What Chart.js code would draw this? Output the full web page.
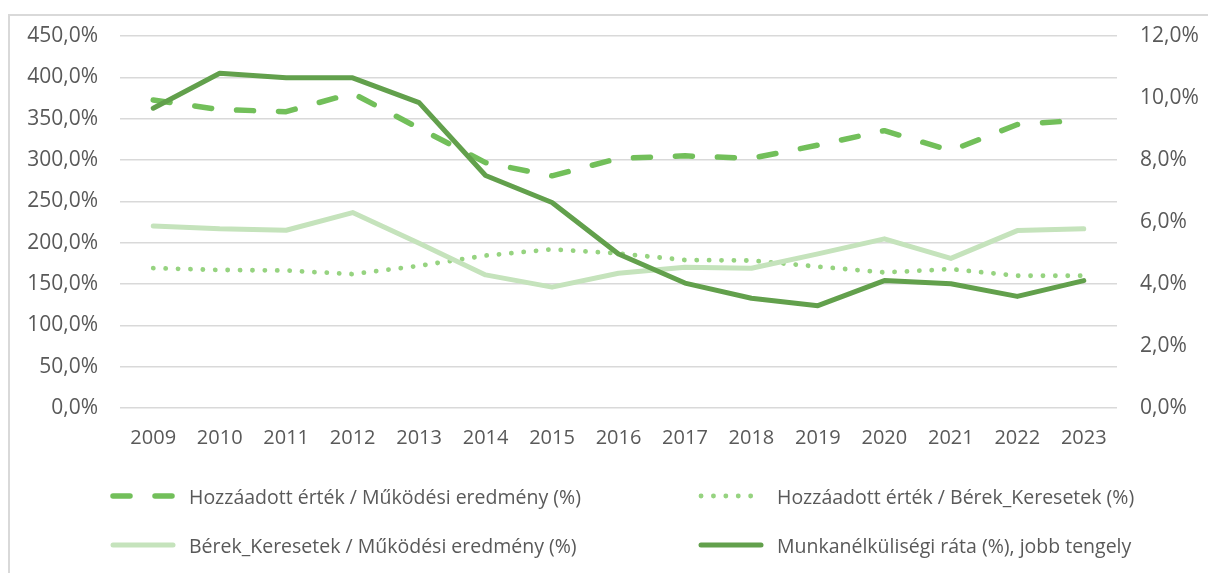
<!DOCTYPE html>
<html>
<head>
<meta charset="utf-8">
<script src="https://cdn.jsdelivr.net/npm/chart.js@4"></script>
<style>
  body { margin: 0; background: #fff; }
  #wrap { position: relative; width: 1208px; height: 573px; overflow: hidden; }
  #frame { position: absolute; left: 8px; top: 14px; width: 1300px; height: 700px;
           border-left: 2px solid #d9d9d9; border-top: 2px solid #d9d9d9; }
  #chart { position: absolute; left: 0; top: 0; }
  .leg { position: absolute; display: flex; align-items: center;
         font-family: "Open Sans", sans-serif; font-size: 19.5px; color: #595959; white-space: nowrap; }
  .leg canvas { margin-right: 13px; }
</style>
</head>
<body>
<div id="wrap">
  <div id="frame"></div>
  <canvas id="chart" width="1208" height="573"></canvas>
  <div id="legend"></div>
</div>
<script>
const years = ['2009','2010','2011','2012','2013','2014','2015','2016','2017','2018','2019','2020','2021','2022','2023'];

// Hozzáadott érték / Működési eredmény (%)
const haMukodesi = [372.6, 361, 358.5, 380.7, 338.4, 296.8, 280.8, 302, 305, 302, 318, 335.5, 311.3, 343, 348.4];
// Hozzáadott érték / Bérek_Keresetek (%)
const haBerek = [169.2, 167, 166.3, 162, 172, 184.4, 192, 187, 179, 178.4, 171, 164, 168, 160, 160];
// Bérek_Keresetek / Működési eredmény (%)
const berekMukodesi = [220.3, 216.7, 215, 236.4, 199.4, 161, 146.2, 163, 170.4, 169, 186.5, 204.6, 181, 214.6, 216.7];
// Munkanélküliségi ráta (%), jobb tengely
const munkanelk = [9.67, 10.80, 10.65, 10.65, 9.85, 7.50, 6.63, 4.97, 4.03, 3.54, 3.30, 4.11, 4.01, 3.60, 4.11];

const labelsText = [
  'Hozzáadott érték / Működési eredmény (%)',
  'Hozzáadott érték / Bérek_Keresetek (%)',
  'Bérek_Keresetek / Működési eredmény (%)',
  'Munkanélküliségi ráta (%), jobb tengely'
];

const fmt = (v) => v.toFixed(1).replace('.', ',') + '%';
const tickFont = { family: '"Open Sans", sans-serif', size: 20 };
const yTickFont = { family: '"Open Sans", sans-serif', size: 21 };

const datasets = [
  { label: labelsText[0], data: haMukodesi, yAxisID: 'y', borderColor: 'rgb(114,191,90)',
    borderWidth: 5.5, borderDash: [17, 25], order: 3 },
  { label: labelsText[1], data: haBerek, yAxisID: 'y', borderColor: 'rgb(150,211,128)',
    borderWidth: 4.8, borderDash: [0.1, 12.3], order: 2 },
  { label: labelsText[2], data: berekMukodesi, yAxisID: 'y', borderColor: 'rgb(197,227,188)',
    borderWidth: 5, order: 1 },
  { label: labelsText[3], data: munkanelk, yAxisID: 'y1', borderColor: 'rgb(98,160,76)',
    borderWidth: 5, order: 0 }
];
datasets.forEach((d) => {
  d.pointRadius = 0;
  d.tension = 0;
  d.fill = false;
  d.borderCapStyle = 'round';
  d.borderJoinStyle = 'round';
});

const chart = new Chart(document.getElementById('chart'), {
  type: 'line',
  data: { labels: years, datasets: datasets },
  options: {
    responsive: false,
    animation: false,
    layout: { padding: { top: 36, left: 0, right: 0, bottom: 115 } },
    plugins: { legend: { display: false }, tooltip: { enabled: false } },
    scales: {
      x: {
        offset: true,
        grid: { display: false, drawTicks: false },
        border: { display: false },
        ticks: { font: tickFont, color: '#595959', padding: 18, maxRotation: 0 },
        afterFit: (s) => { s.height = 50; }
      },
      y: {
        position: 'left',
        min: 0, max: 450,
        grid: { color: '#d9d9d9', lineWidth: 1.5, drawTicks: false },
        border: { display: false },
        ticks: { stepSize: 50, font: yTickFont, color: '#595959', padding: 22, callback: (v) => fmt(v) },
        afterFit: (s) => { s.width = 120; }
      },
      y1: {
        position: 'right',
        min: 0, max: 12,
        grid: { display: false, drawTicks: false },
        border: { display: false },
        ticks: { stepSize: 2, font: yTickFont, color: '#595959', padding: 23, callback: (v) => fmt(v) },
        afterFit: (s) => { s.width = 91; }
      }
    }
  }
});

// html legend, two columns
const legendPos = [[110, 496], [698, 496], [110, 545], [698, 545]];
const legendBox = document.getElementById('legend');
chart.data.datasets.forEach((ds, i) => {
  const item = document.createElement('div');
  item.className = 'leg';
  item.style.left = legendPos[i][0] + 'px';
  item.style.top = (legendPos[i][1] - 14) + 'px';
  item.style.height = '28px';
  const c = document.createElement('canvas');
  c.width = 66; c.height = 12;
  const g = c.getContext('2d');
  g.strokeStyle = ds.borderColor;
  g.lineWidth = ds.borderWidth;
  g.lineCap = 'round';
  if (ds.borderDash) g.setLineDash(ds.borderDash);
  g.beginPath();
  g.moveTo(3, 6);
  g.lineTo(63, 6);
  g.stroke();
  item.appendChild(c);
  const t = document.createElement('span');
  t.textContent = ds.label;
  item.appendChild(t);
  legendBox.appendChild(item);
});
</script>
</body>
</html>
